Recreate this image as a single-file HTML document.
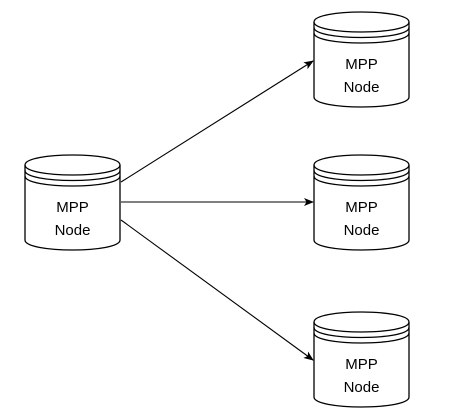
<!DOCTYPE html>
<html><head><style>body{margin:0;background:#fff}svg{display:block}</style></head><body>
<svg width="452" height="416" viewBox="0 0 452 416" xmlns="http://www.w3.org/2000/svg">
<defs>
<marker id="a" markerWidth="10" markerHeight="8" refX="9" refY="4" orient="auto" markerUnits="userSpaceOnUse">
<path d="M0,0 L10,4 L0,8 L2.5,4 Z" fill="#000"/>
</marker>
<g id="cyl">
<path d="M0,10 C0,-3.3 95,-3.3 95,10 L95,85 C95,98.3 0,98.3 0,85 Z" fill="#fff" stroke="#000" stroke-width="1.3"/>
<path d="M0,10 C0,23.3 95,23.3 95,10" fill="none" stroke="#000" stroke-width="1.3"/>
<path d="M0,15.5 C0,28.8 95,28.8 95,15.5" fill="none" stroke="#000" stroke-width="1.3"/>
<path d="M0,21 C0,34.3 95,34.3 95,21" fill="none" stroke="#000" stroke-width="1.3"/>
<text x="47.5" y="57" text-anchor="middle" font-family="Liberation Sans, sans-serif" font-size="15">MPP</text>
<text x="47.5" y="80" text-anchor="middle" font-family="Liberation Sans, sans-serif" font-size="15">Node</text>
</g>
</defs>
<g stroke="#000" stroke-width="1.1" marker-end="url(#a)">
<line x1="121" y1="182" x2="313" y2="61"/>
<line x1="121" y1="202" x2="313" y2="202"/>
<line x1="121" y1="220" x2="313" y2="360"/>
</g>
<use href="#cyl" x="25" y="155"/>
<use href="#cyl" x="314" y="12"/>
<use href="#cyl" x="314" y="155"/>
<use href="#cyl" x="314" y="312"/>
</svg>
</body></html>
